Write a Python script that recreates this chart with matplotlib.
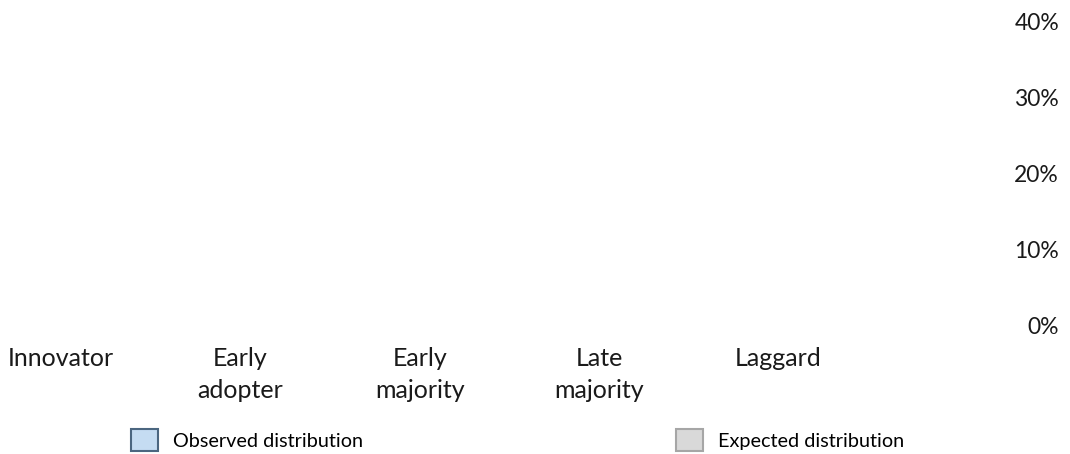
import numpy as np
import matplotlib
matplotlib.use("Agg")
import matplotlib.pyplot as plt

plt.rcParams['font.family'] = ['Lato', 'DejaVu Sans']

# Adopter categories and their shares (no recorded values yet)
categories = ["Innovator", "Early\nadopter", "Early\nmajority", "Late\nmajority", "Laggard"]
observed = [np.nan, np.nan, np.nan, np.nan, np.nan]
expected = [np.nan, np.nan, np.nan, np.nan, np.nan]
y_ticks = [0.0, 0.1, 0.2, 0.3, 0.4]
y_tick_labels = ["0%", "10%", "20%", "30%", "40%"]

W, H = 1070, 454
fig = plt.figure(figsize=(W / 100, H / 100), dpi=100)

# plot area in pixels: x 0..1000, y (from top) 21..325
ax = fig.add_axes([0, (H - 325) / H, 1000 / W, (325 - 21) / H])

x = np.arange(len(categories))
bw = 0.38
obs_bars = ax.bar(x - bw / 2, observed, width=bw, color="#c5dcf2",
                  edgecolor="#4b6680", linewidth=1.5, label="Observed distribution")
exp_bars = ax.bar(x + bw / 2, expected, width=bw, color="#d9d9d9",
                  edgecolor="#a6a6a6", linewidth=1.5, label="Expected distribution")

# category centres: pixel = 61.2 + 179.3 * i
px0, step = 61.2, 179.3
ax.set_xlim(-px0 / step, (1000 - px0) / step)
ax.set_ylim(0, 0.4)

ax.set_xticks(x)
ax.set_xticklabels(categories, fontsize=18, color="#1a1a1a", linespacing=1.52)
ax.set_yticks(y_ticks)
ax.set_yticklabels(y_tick_labels, fontsize=16.5, color="#1a1a1a")
ax.yaxis.tick_right()
for lbl in ax.get_yticklabels():
    lbl.set_horizontalalignment("right")
ax.tick_params(axis="y", length=0, pad=42.5)
ax.tick_params(axis="x", length=0, pad=15.5)

for s in ax.spines.values():
    s.set_visible(False)
ax.set_facecolor("none")

fig.legend(handles=[obs_bars, exp_bars], loc="center",
           bbox_to_anchor=(517.5 / W, 14 / H), ncol=2, frameon=False,
           fontsize=14.3, handlelength=1.35, handleheight=1.35,
           handletextpad=0.75, columnspacing=15.8, borderpad=0, borderaxespad=0)

fig.savefig("out.png", dpi=100)
